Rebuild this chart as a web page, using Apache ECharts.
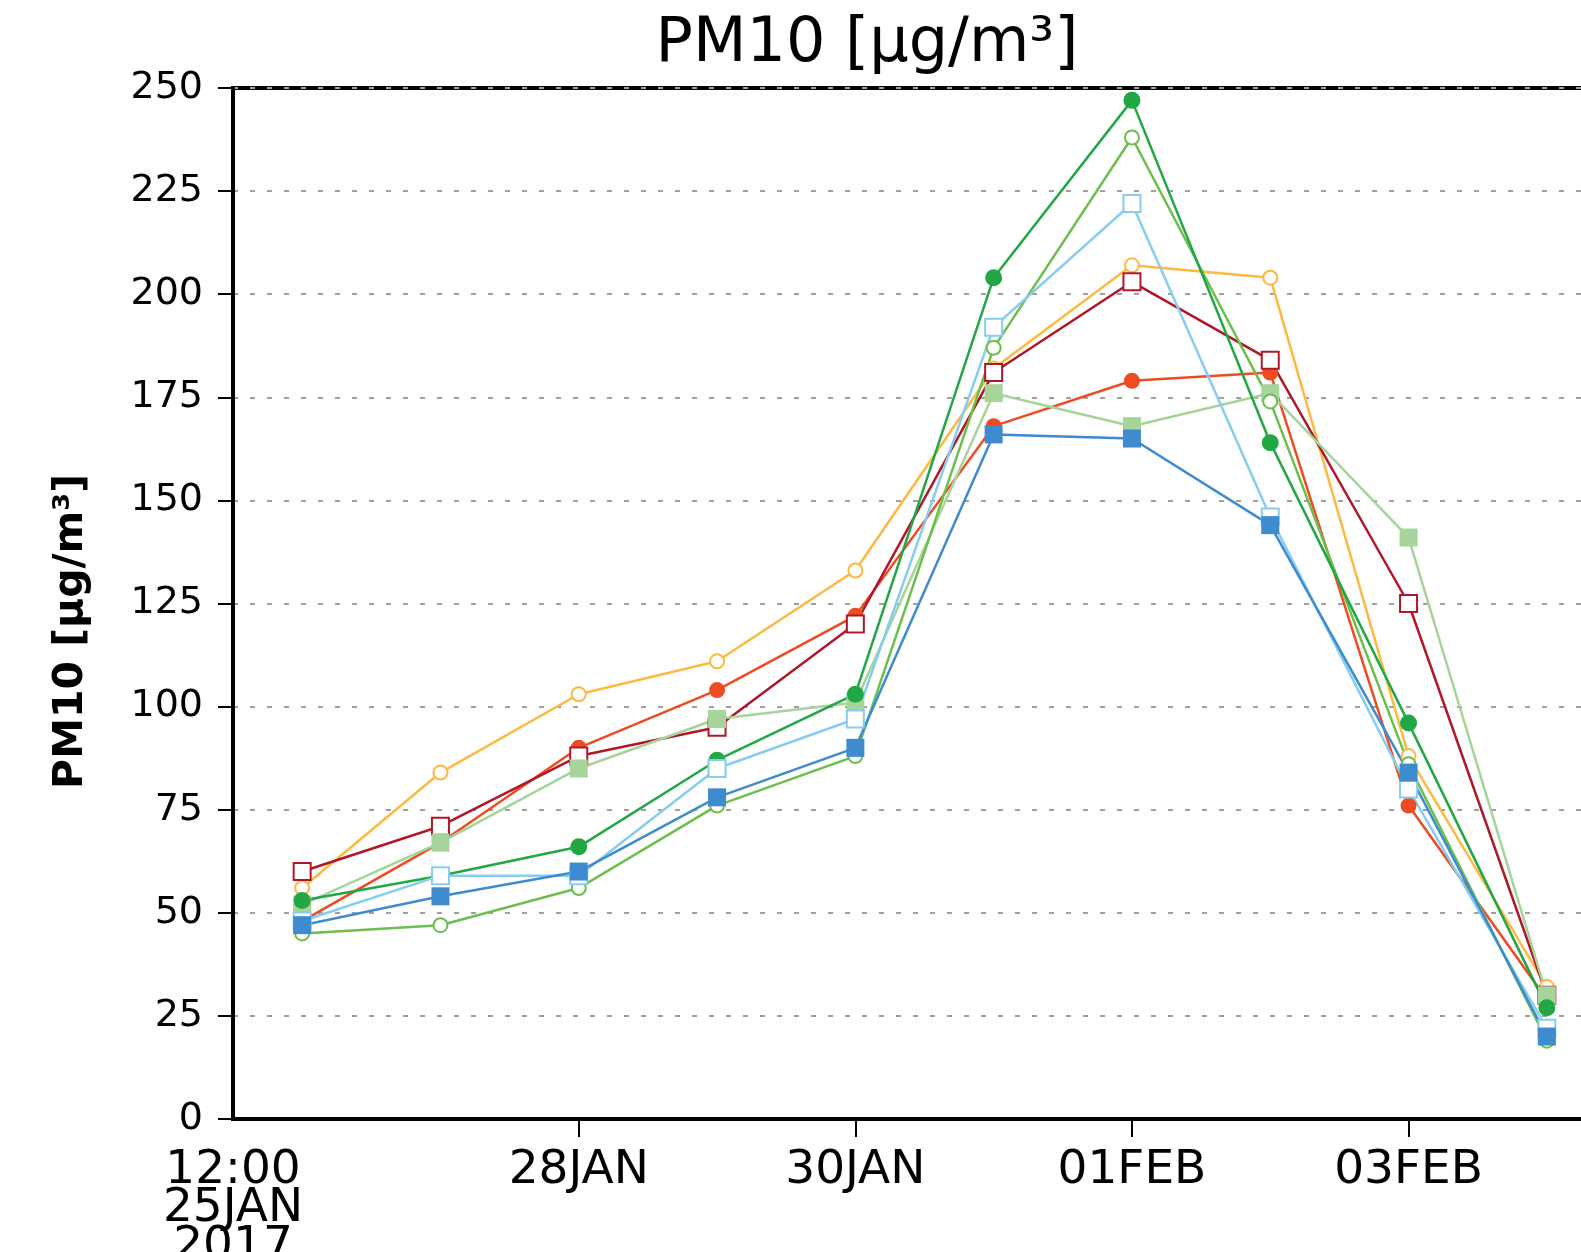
<!DOCTYPE html>
<html>
<head>
<meta charset="utf-8">
<script src="https://cdn.jsdelivr.net/npm/echarts@6/dist/echarts.min.js"></script>
<style>
html,body{margin:0;padding:0;background:#fff;}
#chart{width:1581px;height:1252px;}
</style>
</head>
<body>
<div id="chart"></div>
<script>
// x positions: days since 26JAN2017 00:00 (one value per day, 26JAN .. 04FEB)
const dayOffsets = [0, 1, 2, 3, 4, 5, 6, 7, 8, 9];
// axis range: 12:00 25JAN .. 12:00 04FEB
const axisStartDay = -0.5;
const axisEndDay = 9.5;
const tickDays = [2, 4, 6, 8];
const tickLabels = ['28JAN', '30JAN', '01FEB', '03FEB'];
const startLabel = '12:00\n25JAN\n2017';

const yTicks = [0, 25, 50, 75, 100, 125, 150, 175, 200, 225, 250];

// PM10 series (µg/m³)
const orangeOpenCircle = [56, 84, 103, 111, 133, 182, 207, 204, 88, 32];
const redFilledCircle = [48, 67, 90, 104, 122, 168, 179, 181, 76, 29];
const darkRedOpenSquare = [60, 71, 88, 95, 120, 181, 203, 184, 125, 30];
const lightGreenFilledSquare = [52, 67, 85, 97, 101, 176, 168, 176, 141, 30];
const lightGreenOpenCircle = [45, 47, 56, 76, 88, 187, 238, 174, 86, 19];
const greenFilledCircle = [53, 59, 66, 87, 103, 204, 247, 164, 96, 27];
const lightBlueOpenSquare = [48, 59, 59, 85, 97, 192, 222, 146, 80, 22];
const blueFilledSquare = [47, 54, 60, 78, 90, 166, 165, 144, 84, 20];

const FONT = "'DejaVu Sans', 'Liberation Sans', sans-serif";

function pairs(vals) { return dayOffsets.map((d, i) => [d, vals[i]]); }

function mk(name, vals, color, symbol, size, empty) {
  return {
    name: name,
    type: 'line',
    data: pairs(vals),
    symbol: symbol,
    symbolSize: size,
    showSymbol: true,
    lineStyle: { color: color, width: 2.5 },
    itemStyle: empty ? { color: color, borderColor: color, borderWidth: 3 } : { color: color, borderWidth: 0 },
    emphasis: { disabled: true },
    animation: false
  };
}

const chart = echarts.init(document.getElementById('chart'), null, { renderer: 'canvas' });
chart.setOption({
  backgroundColor: '#ffffff',
  animation: false,
  title: {
    text: 'PM10 [\u03bcg/m\u00b3]',
    left: 867,
    top: 14,
    padding: 0,
    textAlign: 'center',
    textStyle: { fontFamily: FONT, fontSize: 62, fontWeight: 'normal', color: '#000' }
  },
  grid: {
    left: 233, top: 88, right: -35, bottom: 133,
    outerBoundsMode: 'none',
    containLabel: false,
    show: true, borderColor: '#000', borderWidth: 4, backgroundColor: 'transparent'
  },
  xAxis: {
    type: 'value',
    min: axisStartDay,
    max: axisEndDay,
    axisLine: { show: true, onZero: false, lineStyle: { color: '#000', width: 4 } },
    axisTick: { show: true, customValues: tickDays, length: 18, lineStyle: { color: '#000', width: 2 } },
    axisLabel: {
      customValues: [axisStartDay].concat(tickDays),
      formatter: function (v) {
        if (Math.abs(v - axisStartDay) < 1e-6) return startLabel;
        const i = tickDays.indexOf(v);
        return i >= 0 ? tickLabels[i] : '';
      },
      fontFamily: FONT, fontSize: 47, lineHeight: 38, margin: 33, color: '#000'
    },
    splitLine: { show: false }
  },
  yAxis: {
    type: 'value',
    min: yTicks[0],
    max: yTicks[yTicks.length - 1],
    interval: 25,
    name: 'PM10 [\u03bcg/m\u00b3]',
    nameLocation: 'middle',
    nameRotate: 90,
    nameGap: 141,
    nameTextStyle: { fontFamily: FONT, fontSize: 41, fontWeight: 'bold', color: '#000', padding: [0, 56, 0, 0] },
    axisLine: { show: true, onZero: false, lineStyle: { color: '#000', width: 4 } },
    axisTick: { show: true, length: 15, lineStyle: { color: '#000', width: 2 } },
    axisLabel: { fontFamily: FONT, fontSize: 38, margin: 30, color: '#000' },
    splitLine: { show: true, lineStyle: { color: '#a0a0a0', width: 2, type: [5, 12] } }
  },
  series: [
    mk('red filled circle', redFilledCircle, '#EE4B23', 'circle', 16, false),
    mk('orange open circle', orangeOpenCircle, '#FDB940', 'emptyCircle', 14, true),
    mk('dark red open square', darkRedOpenSquare, '#B0182A', 'emptyRect', 17, true),
    mk('light green filled square', lightGreenFilledSquare, '#A6D49A', 'rect', 18, false),
    mk('light green open circle', lightGreenOpenCircle, '#6CBF4C', 'emptyCircle', 14, true),
    mk('green filled circle', greenFilledCircle, '#22A745', 'circle', 17, false),
    mk('light blue open square', lightBlueOpenSquare, '#86CDF0', 'emptyRect', 17, true),
    mk('blue filled square', blueFilledSquare, '#3E8BD0', 'rect', 18, false)
  ]
});
</script>
</body>
</html>
